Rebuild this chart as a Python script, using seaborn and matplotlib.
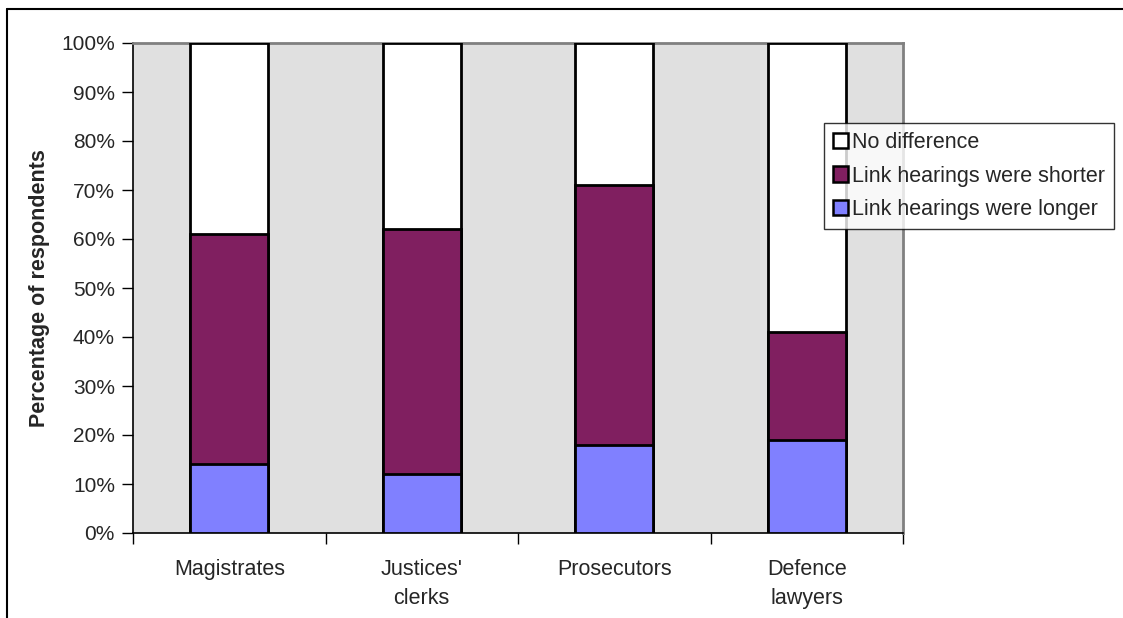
import matplotlib
matplotlib.use("Agg")
import matplotlib.pyplot as plt
from matplotlib.lines import Line2D
from matplotlib.patches import Patch
from matplotlib.ticker import FuncFormatter, FixedLocator
import seaborn as sns
import pandas as pd
import numpy as np

# Survey responses (% of respondents)
groups = ["Magistrates", "Justices'\nclerks", "Prosecutors", "Defence\nlawyers"]
longer = [14, 12, 18, 19]
shorter = [47, 50, 53, 22]
no_difference = [39, 38, 29, 59]

series_names = ["No difference", "Link hearings were shorter", "Link hearings were longer"]
series_colors = ["#FFFFFF", "#801F60", "#8080FF"]

sns.set_theme(style="white")
plt.rcParams["font.family"] = ["Liberation Sans", "DejaVu Sans"]
FS_TICK = 15
FS = 15.5

df = pd.DataFrame({
    "group": groups,
    "longer": longer,
    "shorter": shorter,
    "none": no_difference,
})
df["cum_longer"] = df["longer"]
df["cum_shorter"] = df["longer"] + df["shorter"]
df["cum_none"] = df["cum_shorter"] + df["none"]

fig = plt.figure(figsize=(11.23, 6.18), dpi=100)
ax = fig.add_axes([133 / 1123, 1 - 533 / 618, 770 / 1123, 490 / 618])
ax.set_facecolor("#E0E0E0")

# Stacked bars: draw cumulative totals from the top segment down
for col, color in zip(["cum_none", "cum_shorter", "cum_longer"], series_colors):
    sns.barplot(data=df, x="group", y=col, color=color, width=0.405,
                edgecolor="black", linewidth=2, saturation=1, ax=ax, zorder=3)

ax.set_xlim(-0.5, len(groups) - 0.5)
ax.set_ylim(0, 100)
ax.set_yticks(np.arange(0, 101, 10))
ax.yaxis.set_major_formatter(FuncFormatter(lambda v, p: f"{int(v)}%"))
ax.tick_params(axis="y", which="major", direction="out", length=8, width=1,
               color="black", labelsize=FS_TICK, pad=5, left=True)
ax.tick_params(axis="x", which="major", length=0, labelsize=FS, pad=19)
ax.xaxis.set_minor_locator(FixedLocator(np.arange(-0.5, len(groups), 1.0)))
ax.tick_params(axis="x", which="minor", direction="out", length=8, width=1,
               color="black", bottom=True)
for lbl in ax.get_xticklabels():
    lbl.set_linespacing(1.45)

ax.set_xlabel("")
ax.set_ylabel("Percentage of respondents", fontsize=FS, fontweight="bold", labelpad=8)

for side in ["top", "right"]:
    ax.spines[side].set_color("#808080")
    ax.spines[side].set_linewidth(2)
for side in ["left", "bottom"]:
    ax.spines[side].set_color("black")
    ax.spines[side].set_linewidth(1.2)
ax.grid(False)

handles = [Patch(facecolor=c, edgecolor="black", linewidth=1.8) for c in series_colors]
leg = fig.legend(handles, series_names, loc="upper left",
                 bbox_to_anchor=(824 / 1123, 1 - 123 / 618),
                 frameon=True, fancybox=False, fontsize=FS,
                 handlelength=0.7, handleheight=0.7, handletextpad=0.2,
                 labelspacing=0.6, borderpad=0.4, borderaxespad=0)
leg.get_frame().set_edgecolor("black")
leg.get_frame().set_linewidth(1)
leg.get_frame().set_facecolor("white")

# Outer frame lines (top and left)
fig.add_artist(Line2D([7 / 1123, 1], [1 - 9 / 618, 1 - 9 / 618], color="black", lw=1.5))
fig.add_artist(Line2D([7 / 1123, 7 / 1123], [0, 1 - 9 / 618], color="black", lw=1.5))

fig.savefig("out.png", dpi=100, facecolor="white")
